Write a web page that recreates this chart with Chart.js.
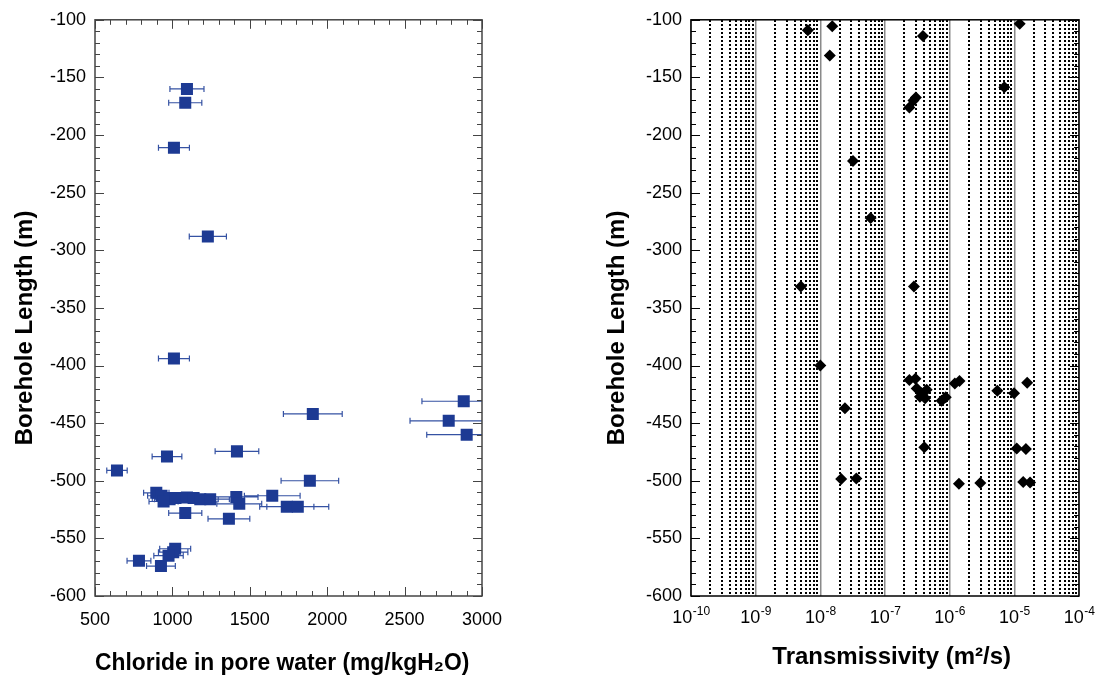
<!DOCTYPE html>
<html>
<head>
<meta charset="utf-8">
<script src="https://cdn.jsdelivr.net/npm/chart.js@4.4.1/dist/chart.umd.min.js"></script>
<style>
html,body{margin:0;padding:0;background:#fff;}
#wrap{position:relative;width:1095px;height:682px;overflow:hidden;background:#fff;}
#cl{position:absolute;left:0;top:0;}
#tr{position:absolute;left:590px;top:0;}
</style>
</head>
<body>
<div id="wrap">
  <canvas id="cl" width="530" height="682"></canvas>
  <canvas id="tr" width="505" height="682"></canvas>
</div>
<script>
// left panel: chloride in pore water vs borehole length, with x error bars
const chlorideX = [1094,1083,1010,1229,1010,2882,1907,2785,2901,1417,965,642,1888,896,930,965,982,943,1020,1094,1137,1180,1244,1413,1432,1645,1739,1810,1083,1365,1018,1005,975,784,926];
const chlorideY = [-160,-172,-211,-288,-394,-431,-442,-448,-460,-474.5,-479,-491,-500,-510.5,-513,-515,-516,-518,-515,-514.5,-515,-516,-516,-514,-520,-513,-522.5,-522.5,-528,-533,-559,-562,-565,-569.5,-574];
const chlorideErr = [110,107,100,120,100,270,190,250,258,141,96,66,186,82,90,95,98,94,100,108,112,116,124,140,145,180,175,200,107,135,100,95,95,77,93];

// right panel: transmissivity vs borehole length
const transT = [6.4e-9,1.53e-8,1.4e-8,3.86e-7,1.21e-5,7.0e-6,2.75e-7,3.0e-7,2.38e-7,3.2e-8,6.0e-8,5.0e-9,2.8e-7,1.0e-8,2.4e-8,2.1e-8,3.6e-8,4.05e-7,2.38e-7,2.95e-7,3.09e-7,3.69e-7,4.41e-7,4.17e-7,3.47e-7,7.5e-7,8.7e-7,1.2e-6,1.42e-6,5.45e-6,9.9e-6,1.58e-5,1.09e-5,1.51e-5,1.39e-6,2.98e-6,1.37e-5,1.75e-5];
const transY = [-109,-105.5,-131,-114,-103.5,-158.5,-170,-167.5,-176,-222.5,-272,-331.5,-331.5,-400,-437,-498.5,-498,-471,-412.5,-411.5,-420,-424,-421,-428.5,-427,-430.5,-427.5,-415.5,-413.5,-422,-424,-415,-472,-472.5,-502.5,-502,-501,-501.5];

// ticks
const chlorideTicks = [500,1000,1500,2000,2500,3000];
const depthMin = -600, depthMax = -100, depthStep = 50;
const transTicks = [1e-10,1e-9,1e-8,1e-7,1e-6,1e-5,1e-4];
const transTickExp = ['-10','-9','-8','-7','-6','-5','-4'];
const minorMult = [2,3,4,5,6,7,8,9];

const FONT = "'Liberation Sans', Arial, sans-serif";
Chart.defaults.font.family = FONT;
Chart.defaults.color = '#000';

const plain = v => String(v);
const noEdgePad = s => { s.paddingLeft = 0; s.paddingRight = 0; };

// inner tick marks + frame
const innerTicks = {
  id: 'innerTicks',
  afterDatasetsDraw(chart, args, o) {
    const {ctx, chartArea: a, scales} = chart;
    ctx.save();
    ctx.strokeStyle = o.color;
    ctx.lineWidth = 1;
    ctx.beginPath();
    if (o.xStep) {
      const s = scales.x;
      for (let v = s.min; v <= s.max + 1e-9; v += o.xStep) {
        const p = Math.round(s.getPixelForValue(v)) + 0.5;
        const len = (Math.round(v) % o.xMajor === 0) ? o.major : o.minor;
        ctx.moveTo(p, a.bottom); ctx.lineTo(p, a.bottom - len);
        ctx.moveTo(p, a.top); ctx.lineTo(p, a.top + len);
      }
    }
    const s = scales.y;
    for (let v = s.min; v <= s.max + 1e-9; v += o.yStep) {
      const p = Math.round(s.getPixelForValue(v)) + 0.5;
      const len = (Math.round(v) % o.yMajor === 0) ? o.major : o.minor;
      ctx.moveTo(a.left, p); ctx.lineTo(a.left + len, p);
      ctx.moveTo(a.right, p); ctx.lineTo(a.right - len, p);
    }
    ctx.stroke();
    ctx.strokeStyle = o.frame;
    ctx.lineWidth = o.frameWidth;
    ctx.strokeRect(a.left, a.top, a.right - a.left, a.bottom - a.top);
    ctx.restore();
  }
};

// horizontal error bars drawn under the squares
const xErrorBars = {
  id: 'xErrorBars',
  beforeDatasetsDraw(chart) {
    const {ctx, chartArea: a, scales: {x, y}} = chart;
    ctx.save();
    ctx.beginPath();
    ctx.rect(a.left, a.top, a.right - a.left, a.bottom - a.top);
    ctx.clip();
    ctx.strokeStyle = '#3552a3';
    ctx.lineWidth = 1.2;
    ctx.beginPath();
    chlorideX.forEach((cx, i) => {
      const py = y.getPixelForValue(chlorideY[i]);
      const x1 = x.getPixelForValue(cx - chlorideErr[i]);
      const x2 = x.getPixelForValue(cx + chlorideErr[i]);
      ctx.moveTo(x1, py); ctx.lineTo(x2, py);
      ctx.moveTo(x1, py - 3); ctx.lineTo(x1, py + 3);
      ctx.moveTo(x2, py - 3); ctx.lineTo(x2, py + 3);
    });
    ctx.stroke();
    ctx.restore();
  }
};

// 10^n labels with a raised exponent
const powerLabels = {
  id: 'powerLabels',
  afterDraw(chart) {
    const {ctx, chartArea: a, scales: {x}} = chart;
    ctx.save();
    ctx.fillStyle = '#000';
    ctx.textBaseline = 'alphabetic';
    ctx.textAlign = 'left';
    transTicks.forEach((v, i) => {
      const px = x.getPixelForValue(v);
      ctx.font = '18px ' + FONT;
      const wb = ctx.measureText('10').width;
      ctx.font = '12px ' + FONT;
      const we = ctx.measureText(transTickExp[i]).width;
      const left = px - (wb + we) / 2;
      ctx.font = '18px ' + FONT;
      ctx.fillText('10', left, a.bottom + 27);
      ctx.font = '12px ' + FONT;
      ctx.fillText(transTickExp[i], left + wb + 0.5, a.bottom + 19);
    });
    ctx.restore();
  }
};

const titleFont = {size: 24, weight: 'bold'};
const tickFont = {size: 18};

new Chart(document.getElementById('cl'), {
  type: 'scatter',
  data: {
    datasets: [{
      data: chlorideX.map((v, i) => ({x: v, y: chlorideY[i]})),
      pointStyle: 'rect',
      pointRadius: 8.5,
      backgroundColor: '#1d3a93',
      borderWidth: 0
    }]
  },
  options: {
    responsive: false,
    animation: false,
    layout: {padding: {top: 16, right: 48, left: 0, bottom: 0}},
    plugins: {
      legend: {display: false},
      tooltip: {enabled: false},
      innerTicks: {color: '#444', frame: '#444', frameWidth: 1.5, major: 9, minor: 5, xStep: 100, xMajor: 500, yStep: 10, yMajor: 50}
    },
    scales: {
      x: {
        type: 'linear', min: chlorideTicks[0], max: chlorideTicks[chlorideTicks.length - 1],
        afterBuildTicks: s => { s.ticks = chlorideTicks.map(v => ({value: v})); },
        ticks: {font: tickFont, color: '#000', padding: 13, callback: plain, maxRotation: 0, autoSkip: false},
        grid: {display: false, drawTicks: false},
        border: {display: false},
        title: {display: true, text: 'Chloride in pore water (mg/kgH\u2082O)  ', font: titleFont, color: '#000', padding: {top: 0, bottom: 4}},
        afterFit: s => { s.height = 86; noEdgePad(s); }
      },
      y: {
        min: depthMin, max: depthMax,
        ticks: {stepSize: depthStep, font: tickFont, color: '#000', padding: 9, callback: plain, autoSkip: false},
        grid: {display: false, drawTicks: false},
        border: {display: false},
        title: {display: true, text: 'Borehole Length (m)      ', font: titleFont, color: '#000', padding: {top: 11, bottom: 0}},
        afterFit: s => { s.width = 95; }
      }
    }
  },
  plugins: [xErrorBars, innerTicks]
});

const minorTicks = [];
transTicks.slice(0, -1).forEach(d => minorMult.forEach(m => minorTicks.push(d * m)));

new Chart(document.getElementById('tr'), {
  type: 'scatter',
  data: {
    datasets: [{
      data: transT.map((v, i) => ({x: v, y: transY[i]})),
      pointStyle: 'rectRot',
      pointRadius: 6,
      backgroundColor: '#000',
      borderWidth: 0
    }]
  },
  options: {
    responsive: false,
    animation: false,
    layout: {padding: {top: 16, right: 16, left: 0, bottom: 0}},
    plugins: {
      legend: {display: false},
      tooltip: {enabled: false},
      innerTicks: {color: '#000', frame: '#000', frameWidth: 1.5, major: 9, minor: 5, xStep: 0, yStep: 10, yMajor: 50}
    },
    scales: {
      x2: {
        type: 'logarithmic', position: 'top', min: 1e-10, max: 1e-4,
        afterBuildTicks: s => { s.ticks = minorTicks.map(v => ({value: v})); },
        ticks: {display: false},
        grid: {drawTicks: false, color: '#000', lineWidth: 2},
        border: {display: false, dash: [2, 2]},
        afterFit: noEdgePad
      },
      x: {
        type: 'logarithmic', position: 'bottom', min: 1e-10, max: 1e-4,
        afterBuildTicks: s => { s.ticks = transTicks.map(v => ({value: v})); },
        ticks: {display: false},
        grid: {drawTicks: false, color: '#8a8a8a', lineWidth: 1.5},
        border: {display: false},
        title: {display: true, text: '  Transmissivity (m\u00B2/s)', font: titleFont, color: '#000', padding: {top: 0, bottom: 10}},
        afterFit: s => { s.height = 86; noEdgePad(s); }
      },
      y: {
        min: depthMin, max: depthMax,
        ticks: {stepSize: depthStep, font: tickFont, color: '#000', padding: 9, callback: plain, autoSkip: false},
        grid: {display: false, drawTicks: false},
        border: {display: false},
        title: {display: true, text: 'Borehole Length (m)      ', font: titleFont, color: '#000', padding: {top: 13, bottom: 0}},
        afterFit: s => { s.width = 101; }
      }
    }
  },
  plugins: [innerTicks, powerLabels]
});
</script>
</body>
</html>
